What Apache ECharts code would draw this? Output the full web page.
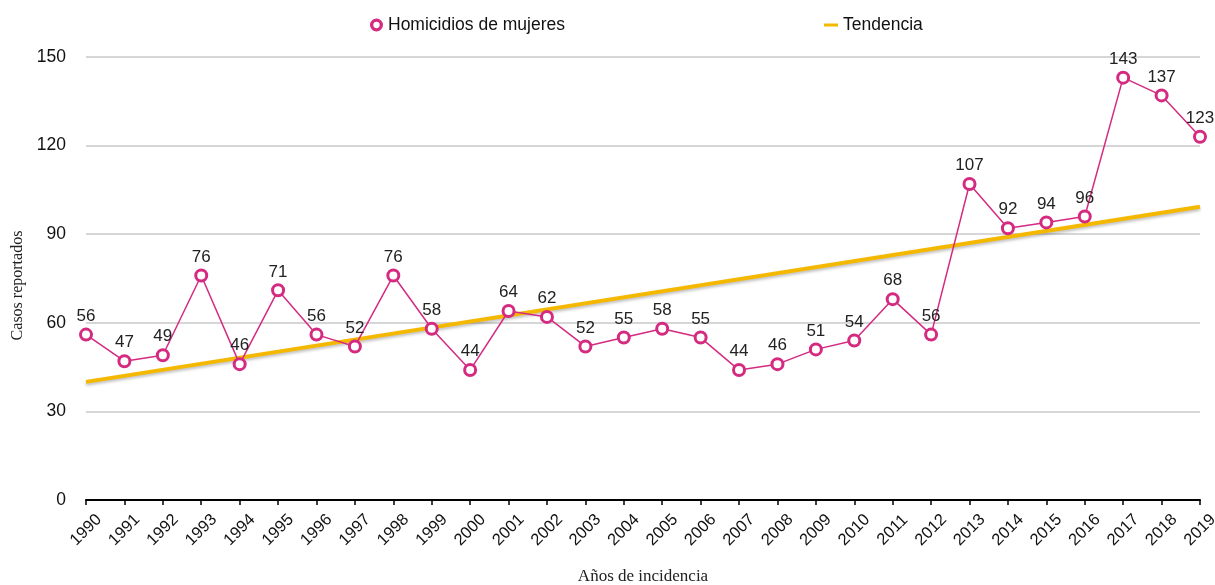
<!DOCTYPE html>
<html>
<head>
<meta charset="utf-8">
<script src="https://cdn.jsdelivr.net/npm/echarts@6/dist/echarts.min.js"></script>
<style>html,body{margin:0;padding:0;background:#fff;}#c{width:1215px;height:585px;}</style>
</head>
<body>
<div id="c"></div>
<script>
const years = ['1990','1991','1992','1993','1994','1995','1996','1997','1998','1999','2000','2001','2002','2003','2004','2005','2006','2007','2008','2009','2010','2011','2012','2013','2014','2015','2016','2017','2018','2019'];
const homicidios = [56,47,49,76,46,71,56,52,76,58,44,64,62,52,55,58,55,44,46,51,54,68,56,107,92,94,96,143,137,123];
const trendStart = 40;
const trendEnd = 99.3;
const yTicks = [0,30,60,90,120,150];

const trend = years.map((y,i)=> i===0 ? trendStart : (i===years.length-1 ? trendEnd : null));

const ring = 'path://M7,0A7,7,0,1,1,7,14A7,7,0,1,1,7,0ZM7,3.6A3.4,3.4,0,1,0,7,10.4A3.4,3.4,0,1,0,7,3.6Z';

const chart = echarts.init(document.getElementById('c'));
chart.setOption({
  animation:false,
  textStyle:{fontFamily:'Liberation Sans, Arial, sans-serif'},
  legend:[{
    left:365, top:11, itemWidth:13, itemHeight:13,
    textStyle:{fontSize:17.5,color:'#111'},
    data:[{name:'Homicidios de mujeres', icon:ring, itemStyle:{color:'#D42A80', borderWidth:0}}]
  },{
    left:819, top:11, itemWidth:14, itemHeight:14,
    textStyle:{fontSize:17.5,color:'#111'},
    data:[{name:'Tendencia', icon:'path://M0,6L14,6L14,9L0,9Z', itemStyle:{color:'#F5B800'}}]
  }],
  grid:{left:86, right:15, top:57, bottom:85, outerBoundsMode:'none', containLabel:false},
  xAxis:{
    type:'category', data:years, boundaryGap:false,
    name:'Años de incidencia', nameLocation:'middle', nameGap:68,
    nameTextStyle:{fontFamily:'Liberation Serif, Times New Roman, serif', fontSize:17, color:'#222'},
    axisLine:{lineStyle:{color:'#000', width:2}},
    axisTick:{show:true, length:5, inside:false, alignWithLabel:true, lineStyle:{color:'#000', width:1.5}},
    axisLabel:{rotate:45, fontSize:16.5, color:'#111', margin:30, interval:0, align:'center', verticalAlign:'middle'},
    splitLine:{show:false}
  },
  yAxis:{
    type:'value', min:yTicks[0], max:yTicks[yTicks.length-1], interval:30,
    name:'Casos reportados', nameLocation:'middle', nameGap:60,
    nameTextStyle:{fontFamily:'Liberation Serif, Times New Roman, serif', fontSize:16, color:'#222', padding:[0,14,0,0]},
    axisLine:{show:false}, axisTick:{show:false},
    axisLabel:{fontSize:17.5, color:'#111', margin:20},
    splitLine:{lineStyle:{color:'#c8c8c8', width:1.5}}
  },
  series:[{
    name:'Tendencia', type:'line', data:trend, connectNulls:true,
    symbol:'none', z:1,
    lineStyle:{color:'#F5B800', width:4, shadowColor:'rgba(0,0,0,0.25)', shadowBlur:3, shadowOffsetY:2},
    itemStyle:{color:'#F5B800'}
  },{
    name:'Homicidios de mujeres', type:'line', data:homicidios, z:3,
    symbol:'circle', symbolSize:11,
    itemStyle:{color:'#fff', borderColor:'#D42A80', borderWidth:3},
    lineStyle:{color:'#D42A80', width:1.5},
    label:{show:true, position:'top', distance:3, fontSize:17, color:'#222'}
  }]
});
</script>
</body>
</html>
